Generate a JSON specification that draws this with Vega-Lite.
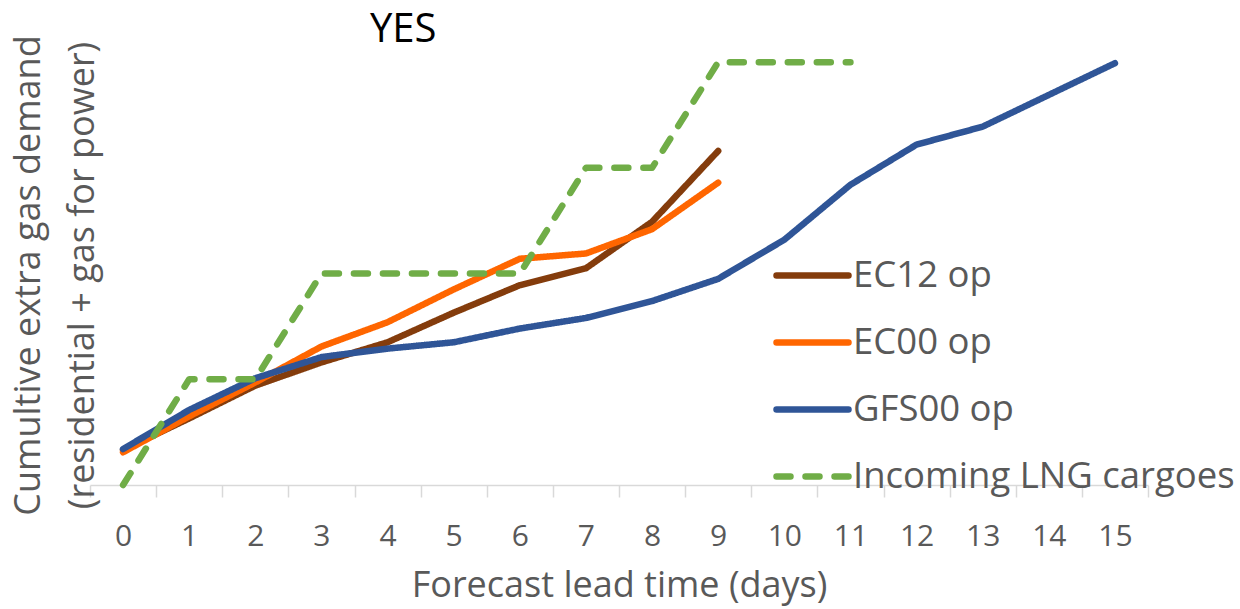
{
  "$schema": "https://vega.github.io/schema/vega-lite/v6.json",
  "width": 1058,
  "height": 444,
  "autosize": {"type": "none"},
  "padding": {"left": 90, "top": 41, "right": 92, "bottom": 124},
  "background": "white",
  "config": {"view": {"stroke": null}, "font": "Open Sans"},
  "title": {"text": "YES", "anchor": "start", "dx": 280, "fontSize": 40, "fontWeight": "normal", "color": "#000000", "font": "Open Sans", "baseline": "alphabetic", "offset": 0, "dy": 47, "frame": "group"},
  "data": {"values": [
    {"day": 0, "series": "EC12 op", "value": 0.33},
    {"day": 1, "series": "EC12 op", "value": 0.63},
    {"day": 2, "series": "EC12 op", "value": 0.94},
    {"day": 3, "series": "EC12 op", "value": 1.16},
    {"day": 4, "series": "EC12 op", "value": 1.35},
    {"day": 5, "series": "EC12 op", "value": 1.63},
    {"day": 6, "series": "EC12 op", "value": 1.89},
    {"day": 7, "series": "EC12 op", "value": 2.05},
    {"day": 8, "series": "EC12 op", "value": 2.49},
    {"day": 9, "series": "EC12 op", "value": 3.16},
    {"day": 0, "series": "EC00 op", "value": 0.31},
    {"day": 1, "series": "EC00 op", "value": 0.65},
    {"day": 2, "series": "EC00 op", "value": 0.97},
    {"day": 3, "series": "EC00 op", "value": 1.31},
    {"day": 4, "series": "EC00 op", "value": 1.54},
    {"day": 5, "series": "EC00 op", "value": 1.85},
    {"day": 6, "series": "EC00 op", "value": 2.14},
    {"day": 7, "series": "EC00 op", "value": 2.19},
    {"day": 8, "series": "EC00 op", "value": 2.42},
    {"day": 9, "series": "EC00 op", "value": 2.86},
    {"day": 0, "series": "GFS00 op", "value": 0.34},
    {"day": 1, "series": "GFS00 op", "value": 0.71},
    {"day": 2, "series": "GFS00 op", "value": 1.01},
    {"day": 3, "series": "GFS00 op", "value": 1.21},
    {"day": 4, "series": "GFS00 op", "value": 1.29},
    {"day": 5, "series": "GFS00 op", "value": 1.35},
    {"day": 6, "series": "GFS00 op", "value": 1.48},
    {"day": 7, "series": "GFS00 op", "value": 1.58},
    {"day": 8, "series": "GFS00 op", "value": 1.74},
    {"day": 9, "series": "GFS00 op", "value": 1.95},
    {"day": 10, "series": "GFS00 op", "value": 2.32},
    {"day": 11, "series": "GFS00 op", "value": 2.84},
    {"day": 12, "series": "GFS00 op", "value": 3.22},
    {"day": 13, "series": "GFS00 op", "value": 3.39},
    {"day": 14, "series": "GFS00 op", "value": 3.69},
    {"day": 15, "series": "GFS00 op", "value": 3.99},
    {"day": 0, "series": "Incoming LNG cargoes", "value": 0},
    {"day": 1, "series": "Incoming LNG cargoes", "value": 1},
    {"day": 2, "series": "Incoming LNG cargoes", "value": 1},
    {"day": 3, "series": "Incoming LNG cargoes", "value": 2},
    {"day": 4, "series": "Incoming LNG cargoes", "value": 2},
    {"day": 5, "series": "Incoming LNG cargoes", "value": 2},
    {"day": 6, "series": "Incoming LNG cargoes", "value": 2},
    {"day": 7, "series": "Incoming LNG cargoes", "value": 3},
    {"day": 8, "series": "Incoming LNG cargoes", "value": 3},
    {"day": 9, "series": "Incoming LNG cargoes", "value": 4},
    {"day": 10, "series": "Incoming LNG cargoes", "value": 4},
    {"day": 11, "series": "Incoming LNG cargoes", "value": 4}
  ]},
  "mark": {"type": "line", "strokeWidth": 6.5, "strokeCap": "round", "strokeJoin": "round", "clip": false},
  "encoding": {
    "x": {
      "field": "day", "type": "ordinal",
      "scale": {"domain": [0,1,2,3,4,5,6,7,8,9,10,11,12,13,14,15], "paddingInner": 0, "paddingOuter": 0},
      "axis": {
        "title": "Forecast lead time (days)", "titleFontSize": 36, "titleFontWeight": "normal", "titleColor": "#595959", "titleFont": "Open Sans", "titlePadding": 17,
        "labelFontSize": 30, "labelColor": "#595959", "labelFont": "Open Sans", "labelAngle": 0, "labelPadding": 24,
        "domainColor": "#D9D9D9", "domainWidth": 1.5, "tickColor": "#D9D9D9", "tickWidth": 1.5, "tickSize": 12, "tickBand": "extent", "grid": false
      }
    },
    "y": {
      "field": "value", "type": "quantitative",
      "scale": {"domain": [0, 4.2], "nice": false, "zero": true},
      "axis": {
        "title": ["Cumultive extra gas demand", "(residential + gas for power)"],
        "titleFontSize": 36, "titleFontWeight": "normal", "titleColor": "#595959", "titleFont": "Open Sans",
        "titleLineHeight": 54, "titleAngle": -90, "titleX": -62, "titleY": 234, "titleAlign": "center", "titleBaseline": "middle",
        "labels": false, "ticks": false, "domain": false, "grid": false
      }
    },
    "color": {
      "field": "series", "type": "nominal",
      "scale": {"domain": ["EC12 op", "EC00 op", "GFS00 op", "Incoming LNG cargoes"], "range": ["#843C0C", "#FF6600", "#2F5597", "#70AD47"]},
      "legend": {
        "title": null, "orient": "none", "legendX": 683, "legendY": 195,
        "symbolType": "stroke", "symbolSize": 5184, "symbolStrokeWidth": 6.5, "rowPadding": 9,
        "labelFontSize": 36.5, "labelColor": "#595959", "labelFont": "Open Sans", "labelOffset": 1, "labelLimit": 600,
        "padding": 0,
        "encode": {"symbols": {"update": {"strokeCap": {"value": "round"}}}}
      }
    },
    "strokeDash": {
      "field": "series", "type": "nominal",
      "scale": {"domain": ["EC12 op", "EC00 op", "GFS00 op", "Incoming LNG cargoes"], "range": [[1, 0], [1, 0], [1, 0], [14, 15]]},
      "legend": null
    }
  }
}
